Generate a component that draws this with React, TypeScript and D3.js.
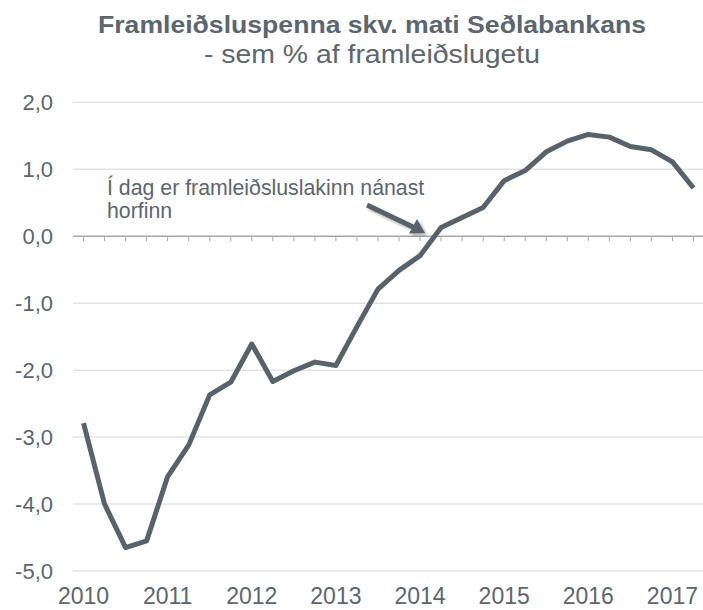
import React from "react";
import * as d3 from "d3";

const quarters = [
  "2010Q1","2010Q2","2010Q3","2010Q4",
  "2011Q1","2011Q2","2011Q3","2011Q4",
  "2012Q1","2012Q2","2012Q3","2012Q4",
  "2013Q1","2013Q2","2013Q3","2013Q4",
  "2014Q1","2014Q2","2014Q3","2014Q4",
  "2015Q1","2015Q2","2015Q3","2015Q4",
  "2016Q1","2016Q2","2016Q3","2016Q4",
  "2017Q1","2017Q2",
];
const outputGap = [
  -2.79, -4.0, -4.65, -4.55,
  -3.59, -3.12, -2.37, -2.18,
  -1.61, -2.17, -2.01, -1.88,
  -1.93, -1.35, -0.79, -0.51,
  -0.29, 0.13, 0.28, 0.43,
  0.83, 0.98, 1.26, 1.42,
  1.52, 1.48, 1.34, 1.29,
  1.11, 0.72,
];
const yTicks = [2, 1, 0, -1, -2, -3, -4, -5];
const yearLabels = ["2010","2011","2012","2013","2014","2015","2016","2017"];
const title = "Framleiðsluspenna skv. mati Seðlabankans";
const subtitle = "- sem % af framleiðslugetu";
const noteLines = ["Í dag er framleiðsluslakinn nánast", "horfinn"];

const W = 703, H = 610;
const textColor = "#5b6670";
const lineColor = "#58626b";
const font = "'Liberation Sans', Arial, Helvetica, sans-serif";

export default function App() {
  const x = d3.scalePoint<string>().domain(quarters).range([73, 704]).padding(0.5);
  const y = d3.scaleLinear().domain([-5, 2]).range([571, 102.3]);
  const line = d3.line<number>()
    .x((_, i) => x(quarters[i]) as number)
    .y((d) => y(d));

  const fmt = (v: number) => v.toFixed(1).replace(".", ",");

  return (
    <svg width={W} height={H} style={{ position: "absolute", left: 0, top: 0, background: "#fff" }} fontFamily={font}>
      <defs>
        <filter id="sh" x="-30%" y="-30%" width="160%" height="160%">
          <feGaussianBlur in="SourceAlpha" stdDeviation="1.5" />
          <feOffset dx="2" dy="2" result="b" />
          <feComponentTransfer><feFuncA type="linear" slope="0.35" /></feComponentTransfer>
          <feMerge><feMergeNode /><feMergeNode in="SourceGraphic" /></feMerge>
        </filter>
      </defs>
      <text x={372} y={33} textAnchor="middle" fontSize={24} fontWeight="bold" fill={textColor}
        textLength={548} lengthAdjust="spacingAndGlyphs">{title}</text>
      <text x={372} y={63} textAnchor="middle" fontSize={25} fill={textColor}
        textLength={336} lengthAdjust="spacingAndGlyphs">{subtitle}</text>

      {yTicks.filter((t) => t !== 0).map((t) => (
        <line key={t} x1={73} x2={703} y1={y(t)} y2={y(t)} stroke="#e3e3e3" strokeWidth={1.5} />
      ))}
      <line x1={73} x2={703} y1={y(0)} y2={y(0)} stroke="#a8a8a8" strokeWidth={1.5} />
      {quarters.map((q) => (
        <line key={q} x1={x(q)} x2={x(q)} y1={y(0)} y2={y(0) + 5} stroke="#a8a8a8" strokeWidth={1} />
      ))}
      {yTicks.map((t) => (
        <text key={t} x={53} y={y(t)} dy="0.35em" textAnchor="end" fontSize={22} fill={textColor}>{fmt(t)}</text>
      ))}
      {yearLabels.map((yr) => (
        <text key={yr} x={x(yr + "Q1")} y={604} textAnchor="middle" fontSize={23} fill={textColor}>{yr}</text>
      ))}

      <path d={line(outputGap) || ""} fill="none" stroke={lineColor} strokeWidth={5} strokeLinejoin="round" />

      {noteLines.map((t, i) => (
        <text key={i} x={107} y={195 + i * 23} fontSize={21.3} fill={textColor}>{t}</text>
      ))}
      <g filter="url(#sh)">
        <line x1={367} y1={205} x2={414} y2={227.5} stroke={lineColor} strokeWidth={5} />
        <polygon points="425,233 409,233.5 417,219" fill={lineColor} />
      </g>
    </svg>
  );
}
